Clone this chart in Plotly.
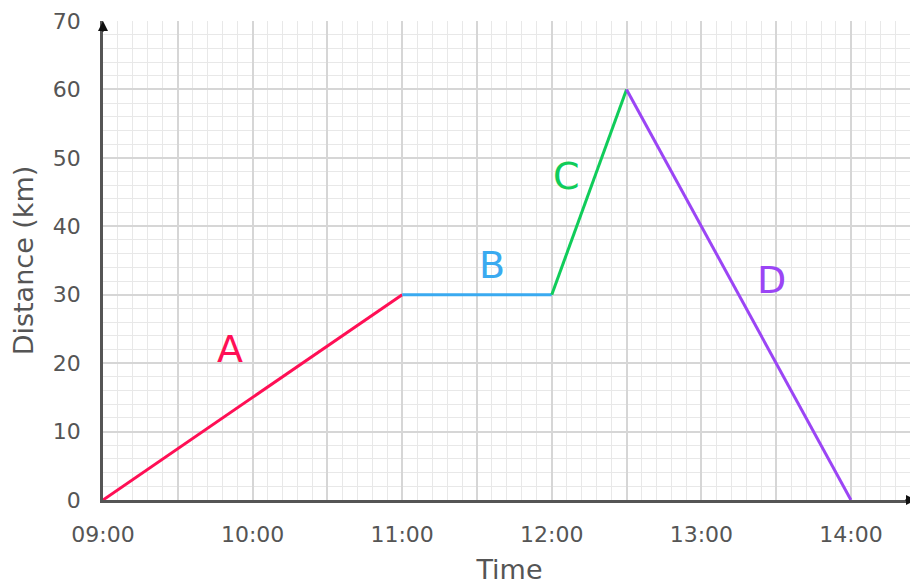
import plotly.graph_objects as go

# Data
segments = ["A", "B", "C", "D"]
times = ["09:00", "11:00", "12:00", "12:30", "14:00"]
distances = [0, 30, 30, 60, 0]
colors = ["#ff0f55", "#3aaaf0", "#10cc5a", "#9b45f5"]
label_times = [9.85, 11.6, 12.1, 13.47]
label_dist = [22, 34.3, 47.3, 32.2]
tick_hours = [9, 10, 11, 12, 13, 14]
tick_labels = ["09:00", "10:00", "11:00", "12:00", "13:00", "14:00"]

def to_h(t):
    h, m = t.split(":")
    return int(h) + int(m) / 60

hrs = [to_h(t) for t in times]

fig = go.Figure()
for i, s in enumerate(segments):
    fig.add_trace(go.Scatter(x=[hrs[i], hrs[i + 1]], y=[distances[i], distances[i + 1]],
                             mode="lines", line=dict(color=colors[i], width=3),
                             showlegend=False, hoverinfo="skip"))
    fig.add_annotation(x=label_times[i], y=label_dist[i], text=s, showarrow=False,
                       font=dict(size=38, color=colors[i], family="DejaVu Sans"))

half_ticks = [9 + 0.5 * k for k in range(11)]
half_text = [tick_labels[tick_hours.index(int(v))] if v == int(v) else "" for v in half_ticks]

fig.update_layout(
    width=918, height=586,
    margin=dict(l=95, r=10, t=13, b=94),
    plot_bgcolor="white", paper_bgcolor="white",
    font=dict(family="DejaVu Sans", color="#555555", size=22),
    xaxis=dict(range=[9, 14.435], tickvals=half_ticks, ticktext=half_text, automargin=False,
               showgrid=True, gridcolor="#d6d6d6", gridwidth=1.5,
               minor=dict(dtick=0.1, tick0=9, showgrid=True, gridcolor="#e8e8e8", gridwidth=1.3),
               showline=True, linecolor="#555555", linewidth=2.5, zeroline=False,
               ticks="", ticklabelstandoff=13,
               title=dict(text="Time", font=dict(size=27, color="#555555"), standoff=14)),
    yaxis=dict(range=[0, 70], tickvals=[0, 10, 20, 30, 40, 50, 60, 70], automargin=False,
               showgrid=True, gridcolor="#d6d6d6", gridwidth=1.5,
               minor=dict(dtick=2, tick0=0, showgrid=True, gridcolor="#e8e8e8", gridwidth=1.3),
               showline=True, linecolor="#555555", linewidth=2.5, zeroline=False,
               ticks="", ticklabelstandoff=15,
               title=dict(text="Distance (km)", font=dict(size=27, color="#555555"), standoff=12)),
)

# axis arrowheads
fig.add_annotation(x=0, y=1.0, xref="paper", yref="paper", ax=0, ay=12, axref="pixel", ayref="pixel",
                   text="", showarrow=True, arrowhead=2, arrowsize=1, arrowwidth=2, arrowcolor="#111111")
fig.add_annotation(x=1.0, y=0, xref="paper", yref="paper", ax=-12, ay=0, axref="pixel", ayref="pixel",
                   text="", showarrow=True, arrowhead=2, arrowsize=1, arrowwidth=2, arrowcolor="#111111")

fig.write_html("out.html")
